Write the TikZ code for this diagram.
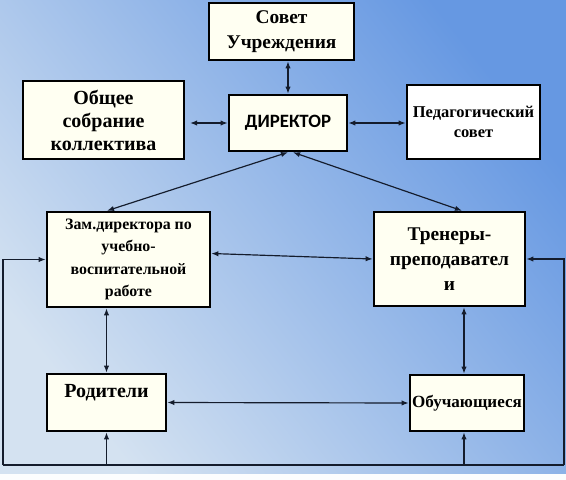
\documentclass[tikz,border=0pt]{standalone}
\usepackage{fontspec}
\setmainfont{Liberation Serif}
\newfontfamily\dirfont{Carlito}
\usetikzlibrary{arrows.meta, calc}
\definecolor{BoxIvory}{HTML}{FFFFF2}
\definecolor{SkyLight}{HTML}{D4E2F1}
\definecolor{SkyDeep}{HTML}{6698E2}
\definecolor{LinkNavy}{HTML}{141C2C}

\tikzset{
  orgbox/.style={draw=black, line width=2.2pt, fill=BoxIvory, align=center,
                 inner sep=1pt, font=\bfseries},
  link/.style={draw=LinkNavy, line width=1pt,
               {Latex[length=6pt,width=4.5pt]}-{Latex[length=6pt,width=4.5pt]}},
  feed/.style={draw=LinkNavy, line width=1pt, -{Latex[length=6pt,width=4.5pt]}}
}

\begin{document}
\begin{tikzpicture}[x=0.85pt, y=-0.85pt]
\useasboundingbox (0,0) rectangle (566,480);
% background
\fill[white!94!SkyLight] (0,0) rectangle (566,480);
\shade[top color=SkyDeep, bottom color=SkyLight, shading angle=-52]
  (0,0) rectangle (566,473);

% boxes
\node[orgbox, minimum width=145*0.85pt, minimum height=57*0.85pt,
      font=\bfseries\fontsize{16.5}{21}\selectfont] (sovet) at (281.5,31.5)
      {Совет\\Учреждения};
\node[orgbox, minimum width=118*0.85pt, minimum height=56*0.85pt,
      font=\dirfont\bfseries\fontsize{16}{19}\selectfont] (direktor) at (288,123)
      {ДИРЕКТОР};
\node[orgbox, minimum width=161*0.85pt, minimum height=78*0.85pt,
      font=\bfseries\fontsize{17}{19.5}\selectfont] (obshee) at (103.5,120)
      {Общее\\собрание\\коллектива};
\node[orgbox, fill=white, minimum width=133*0.85pt, minimum height=74*0.85pt,
      font=\bfseries\fontsize{14}{16.5}\selectfont] (pedsovet) at (473.5,122)
      {Педагогический\\совет};
\node[orgbox, minimum width=163*0.85pt, minimum height=95*0.85pt,
      font=\bfseries\fontsize{13.5}{19}\selectfont] (zam) at (128.5,259.5)
      {Зам.директора по\\учебно-\\воспитательной\\работе};
\node[orgbox, minimum width=151*0.85pt, minimum height=94*0.85pt,
      font=\bfseries\fontsize{16.5}{21}\selectfont] (trener) at (449.5,259)
      {Тренеры-\\преподавател\\и};
\node[orgbox, minimum width=119*0.85pt, minimum height=57*0.85pt,
      text height=12pt, text depth=20pt,
      font=\bfseries\fontsize{17}{19}\selectfont] (roditeli) at (106.5,402.5)
      {Родители};
\node[orgbox, minimum width=114*0.85pt, minimum height=56*0.85pt,
      font=\bfseries\fontsize{14.5}{17}\selectfont] (obuch) at (467,403)
      {Обучающиеся};

% links
\draw[link] (direktor.north) -- (direktor.north |- sovet.south);
\draw[link, shorten <=4pt] (direktor.west -| obshee.east) -- (direktor.west);
\draw[link] (direktor.east) -- (direktor.east -| pedsovet.west);
\draw[link] ($(zam.north)+(-21.5,0)$) -- ($(direktor.south)+(0,0)$);
\draw[link] ($(trener.north)+(12.5,0)$) -- ($(direktor.south)+(5,0)$);
\draw[link] ($(zam.east)+(0,-6)$) -- (trener.west);
\draw[link] (roditeli.north |- zam.south) -- (roditeli.north);
\coordinate (tb) at ($(trener.south)+(14.5,0)$);
\draw[link] (tb) -- (tb |- obuch.north);
\draw[link] (roditeli.east) -- (obuch.west);

% feedback loop
\coordinate (bl) at (3,465);
\coordinate (br) at (564,465);
\coordinate (ob) at ($(obuch.south)+(-3,0)$);
\draw[LinkNavy, line width=1pt] (bl) -- (br);
\draw[feed] (bl) |- (zam.west);
\draw[feed] (br) |- (trener.east);
\draw[feed] (roditeli.south |- bl) -- (roditeli.south);
\draw[feed] (ob |- br) -- (ob);
\end{tikzpicture}
\end{document}
